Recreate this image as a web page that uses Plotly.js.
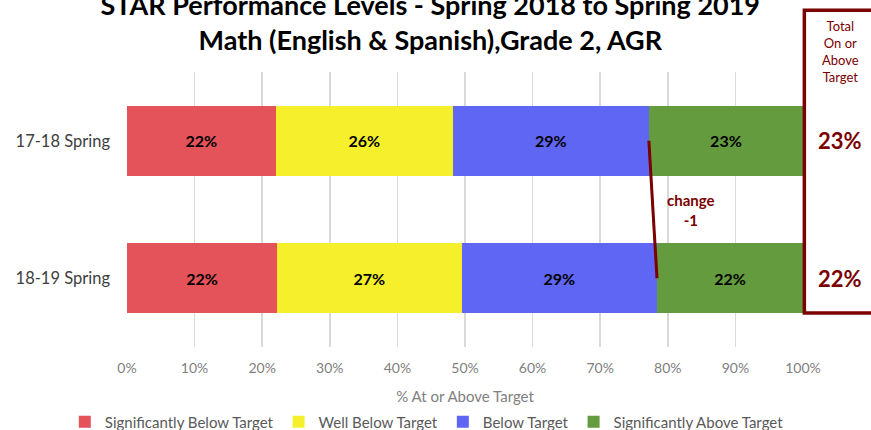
<!DOCTYPE html>
<html>
<head>
<meta charset="utf-8">
<script src="https://cdn.plot.ly/plotly-3.0.1.min.js"></script>
<style>
  html, body { margin: 0; padding: 0; background: #fff; }
  #chart { width: 871px; height: 430px; }
</style>
</head>
<body>
<div id="chart"></div>
<script>
// --- du lieu doc tu hinh ---
const periods = ['17-18 Spring', '18-19 Spring'];
const sigBelow = [22.0, 22.2];
const wellBelow = [26.2, 27.3];
const below = [29.0, 28.9];
const sigAbove = [22.8, 21.6];
const seriesNames = ['Significantly Below Target', 'Well Below Target', 'Below Target', 'Significantly Above Target'];
const seriesColors = ['#e4525a', '#f6f02c', '#6066f4', '#639b3e'];
const xTickVals = [0, 10, 20, 30, 40, 50, 60, 70, 80, 90, 100];
const xTickText = ['0%', '10%', '20%', '30%', '40%', '50%', '60%', '70%', '80%', '90%', '100%'];
const changeText = 'change<br>-1';

const darkRed = '#7b0000';
const font = 'Lato, "Open Sans", sans-serif';

// cac thanh xep chong
const allSeries = [sigBelow, wellBelow, below, sigAbove];
const traces = allSeries.map((vals, i) => ({
    type: 'bar',
    orientation: 'h',
    y: periods,
    x: vals,
    name: seriesNames[i],
    marker: { color: seriesColors[i], line: { width: 0 } },
    width: 0.51,
    texttemplate: '%{x:.0f}%',
    textposition: 'inside',
    insidetextanchor: 'middle',
    textfont: { family: font, size: 16, color: '#000', weight: 'bold' },
    hoverinfo: 'skip'
}));

// duong noi "change" giua hai diem cuoi cua Below Target
const belowEnd = periods.map((p, i) => sigBelow[i] + wellBelow[i] + below[i]);
const changeLine = {
    type: 'scatter',
    mode: 'lines',
    x: belowEnd,
    y: periods,
    line: { color: darkRed, width: 3 },
    showlegend: false,
    hoverinfo: 'skip'
};

// cot tong ben phai
const totals = sigAbove.map(v => Math.round(v) + '%');
const annotations = periods.map((p, i) => ({
    xref: 'paper', yref: 'y', x: 1.055, xanchor: 'center', y: p,
    text: totals[i], showarrow: false,
    font: { family: font, size: 22, color: darkRed, weight: 'bold' }
}));
annotations.push({
    xref: 'paper', yref: 'paper', x: 1.055, xanchor: 'center', y: 1.205, yanchor: 'top',
    text: 'Total<br>On or<br>Above<br>Target', showarrow: false,
    font: { family: font, size: 13, color: darkRed }
});
annotations.push({
    xref: 'x', yref: 'y', x: 83.5, y: 0.5,
    text: changeText, showarrow: false,
    font: { family: font, size: 15, color: darkRed, weight: 'bold' }
});

const layout = {
    width: 871,
    height: 430,
    margin: { l: 127, r: 68, t: 72, b: 83, autoexpand: false },
    paper_bgcolor: '#fff',
    plot_bgcolor: '#fff',
    font: { family: font, color: '#595959' },
    barmode: 'stack',
    bargap: 0.49,
    title: {
        text: 'STAR Performance Levels - Spring 2018 to Spring 2019<br>Math (English & Spanish),Grade 2, AGR',
        font: { family: font, size: 27, color: '#000', weight: 'bold' },
        x: 0.494, xanchor: 'center',
        yref: 'container', y: 0.966, yanchor: 'middle'
    },
    xaxis: {
        range: [0, 100],
        tickvals: xTickVals,
        ticktext: xTickText,
        showgrid: true,
        gridcolor: '#d9d9d9',
        gridwidth: 1.5,
        zeroline: false,
        showline: false,
        ticks: '',
        ticklabelstandoff: 11,
        tickfont: { family: font, size: 14, color: '#808080' },
        title: { text: '% At or Above Target', font: { family: font, size: 15, color: '#808080' } },
        fixedrange: true
    },
    yaxis: {
        autorange: 'reversed',
        showgrid: false,
        zeroline: false,
        ticks: '',
        ticklabelstandoff: 16,
        tickfont: { family: font, size: 16.5, color: '#404040' },
        fixedrange: true
    },
    shapes: [{
        type: 'rect', xref: 'paper', yref: 'paper',
        x0: 1.002, x1: 1.25, y0: 0.124, y1: 1.225,
        line: { color: darkRed, width: 3.5 },
        fillcolor: 'rgba(0,0,0,0)'
    }],
    annotations: annotations,
    legend: {
        orientation: 'h',
        xref: 'paper', x: -0.092, xanchor: 'left',
        yref: 'paper', y: -0.273, yanchor: 'middle',
        font: { family: font, size: 15, color: '#595959' },
        traceorder: 'normal',
        itemwidth: 30
    },
    showlegend: true
};

Plotly.newPlot('chart', [...traces, changeLine], layout, { displayModeBar: false, staticPlot: true });
</script>
</body>
</html>
